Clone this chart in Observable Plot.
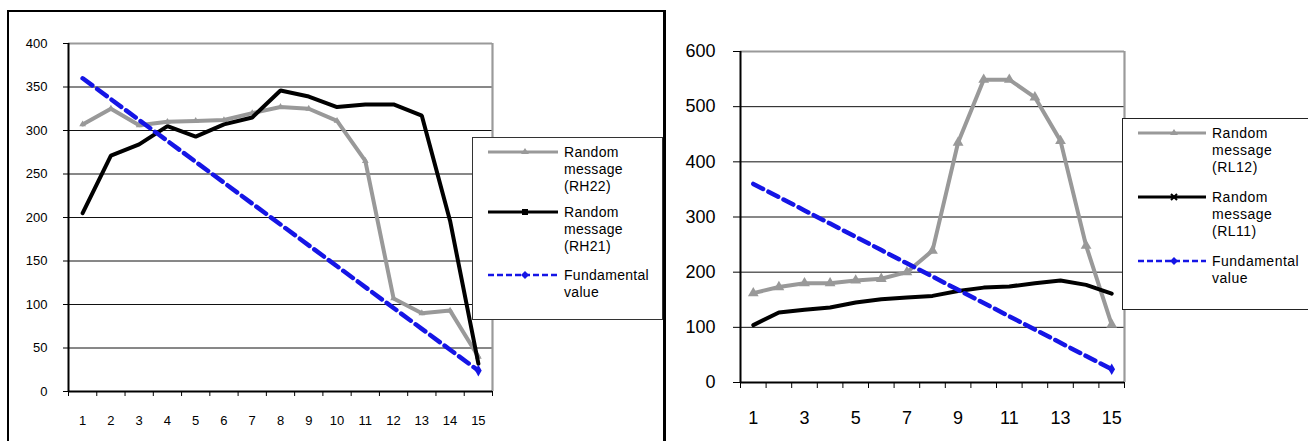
<!DOCTYPE html>
<html>
<head>
<meta charset="utf-8">
<script src="https://cdn.jsdelivr.net/npm/d3@7"></script>
<script src="https://cdn.jsdelivr.net/npm/@observablehq/plot@0.6"></script>
<style>
  html, body { margin: 0; padding: 0; background: #fff; }
  body { width: 1308px; height: 441px; overflow: hidden; position: relative; font-family: "Liberation Sans", Arial, sans-serif; }
  .panel { position: absolute; top: 0; }
  .frame { position: absolute; left: 7px; top: 10px; width: 659px; height: 460px; box-sizing: border-box;
           border-left: 2px solid #000; border-top: 2px solid #000; border-right: 3px solid #000; pointer-events: none; }
  .legend { position: absolute; background: #fff; box-sizing: border-box; }
  .entry { position: absolute; color: #000; }
</style>
</head>
<body>
<div id="left" class="panel" style="left:0px"></div>
<div id="right" class="panel" style="left:664px"></div>
<div class="frame"></div>
<div id="legL" class="legend" style="left:472px; top:137px; width:191px; height:183px; border:1px solid #333;"></div>
<div id="legR" class="legend" style="left:1122px; top:118px; width:200px; height:192px; border:1px solid #222;"></div>
<script>
// ---- data ----
const periods = [1,2,3,4,5,6,7,8,9,10,11,12,13,14,15];
const fundamental = [360,336,312,288,264,240,216,192,168,144,120,96,72,48,24];
// left panel
const rh22 = [307,325,306,310,311,312,320,327,325,311,265,107,90,93,40];
const rh21 = [205,271,284,305,293,307,315,346,339,327,330,330,317,196,32];
const leftYTicks = [0,50,100,150,200,250,300,350,400];
const leftXLabels = [1,2,3,4,5,6,7,8,9,10,11,12,13,14,15];
const leftNames = ["Random\nmessage\n(RH22)", "Random\nmessage\n(RH21)", "Fundamental\nvalue"];
// right panel
const rl12 = [162,173,180,180,185,188,200,239,435,549,549,517,438,248,105];
const rl11 = [104,127,132,136,145,151,154,157,166,172,174,180,185,177,161];
const rightYTicks = [0,100,200,300,400,500,600];
const rightXLabels = [1,3,5,7,9,11,13,15];
const rightNames = ["Random\nmessage\n(RL12)", "Random\nmessage\n(RL11)", "Fundamental\nvalue"];

const GRAY = "#999999", BLACK = "#000000", BLUE = "#1515e6";
const rows = (vals) => periods.map((p, i) => ({period: p, value: vals[i]}));
const boundaries = periods.map(p => p - 0.5).concat([periods[periods.length - 1] + 0.5]);

function panel({width, height, ml, mr, mt, mb, ymax, yTicks, xLabels, tickSizeY, padY, tickSizeX, padX, fontSize, gray, black, dash, triR}) {
  const grid = yTicks.filter(v => v > 0 && v < ymax);
  return Plot.plot({
    width, height,
    marginLeft: ml, marginRight: mr, marginTop: mt, marginBottom: mb,
    x: {domain: [0.5, 15.5], axis: null},
    y: {domain: [0, ymax], axis: null},
    style: {fontFamily: "'Liberation Sans', Arial, sans-serif", fontSize: fontSize + "px", color: "#000", background: "transparent"},
    marks: [
      Plot.ruleY(grid, {stroke: "#111", strokeWidth: 1}),
      Plot.ruleY([ymax], {stroke: "#9a9a9a", strokeWidth: 2.2}),
      Plot.ruleX([15.5], {stroke: "#9a9a9a", strokeWidth: 2.2}),
      Plot.axisY({ticks: yTicks, tickSize: tickSizeY, tickPadding: padY, stroke: "#000", strokeWidth: 1, fontSize: fontSize, label: null}),
      Plot.axisX({ticks: boundaries, tickFormat: () => "", tickSize: tickSizeX, stroke: "#000", strokeWidth: 1, label: null}),
      Plot.axisX({ticks: xLabels, tickSize: 0, tickPadding: padX, fontSize: fontSize, label: null}),
      Plot.ruleY([0], {stroke: "#000", strokeWidth: 2}),
      Plot.ruleX([0.5], {stroke: "#000", strokeWidth: 2}),
      Plot.line(rows(gray), {x: "period", y: "value", stroke: GRAY, strokeWidth: 4, strokeLinejoin: "miter"}),
      Plot.dot(rows(gray), {x: "period", y: "value", symbol: "triangle", r: triR, fill: GRAY, stroke: "none"}),
      Plot.line(rows(black), {x: "period", y: "value", stroke: BLACK, strokeWidth: 4, strokeLinejoin: "miter"}),
      Plot.line(rows(fundamental), {x: "period", y: "value", stroke: BLUE, strokeWidth: 4.5, strokeDasharray: dash}),
      Plot.dot([rows(fundamental)[14]], {x: "period", y: "value", symbol: "diamond", r: 3.5, fill: BLUE})
    ]
  });
}

document.getElementById("left").append(panel({
  width: 664, height: 441, ml: 68, mr: 172, mt: 43, mb: 50, ymax: 400,
  yTicks: leftYTicks, xLabels: leftXLabels, tickSizeY: 5, padY: 16, tickSizeX: 5, padX: 24,
  fontSize: 13, gray: rh22, black: rh21, dash: "12,6", triR: 2.5
}));
document.getElementById("right").append(panel({
  width: 644, height: 441, ml: 76, mr: 184, mt: 51, mb: 59, ymax: 600,
  yTicks: rightYTicks, xLabels: rightXLabels, tickSizeY: 7, padY: 18, tickSizeX: 6, padX: 29,
  fontSize: 18, gray: rl12, black: rl11, dash: "11,6", triR: 4
}));

// ---- legends ----
function legend(el, names, {swX, swW, txX, ys, fontSize, letter, blackMarker}) {
  const styles = [
    {stroke: GRAY, width: 3, dash: null, marker: "tri", color: GRAY},
    {stroke: BLACK, width: 3, dash: null, marker: blackMarker, color: BLACK},
    {stroke: BLUE, width: 2.5, dash: "6,3", marker: "dia", color: BLUE}
  ];
  names.forEach((name, i) => {
    const s = styles[i], y = ys[i];
    const ns = "http://www.w3.org/2000/svg";
    const svg = document.createElementNS(ns, "svg");
    svg.setAttribute("width", swW); svg.setAttribute("height", 12);
    svg.style.position = "absolute"; svg.style.left = swX + "px"; svg.style.top = (y - 6) + "px";
    const ln = document.createElementNS(ns, "line");
    ln.setAttribute("x1", 0); ln.setAttribute("x2", swW); ln.setAttribute("y1", 6); ln.setAttribute("y2", 6);
    ln.setAttribute("stroke", s.stroke); ln.setAttribute("stroke-width", s.width);
    if (s.dash) ln.setAttribute("stroke-dasharray", s.dash);
    svg.append(ln);
    const cx = swW / 2 + 2;
    let m;
    if (s.marker === "tri") { m = document.createElementNS(ns, "path"); m.setAttribute("d", `M${cx},2 L${cx+4},8 L${cx-4},8 Z`); m.setAttribute("fill", s.color); }
    else if (s.marker === "sq") { m = document.createElementNS(ns, "rect"); m.setAttribute("x", cx-3); m.setAttribute("y", 3); m.setAttribute("width", 6); m.setAttribute("height", 6); m.setAttribute("fill", s.color); }
    else if (s.marker === "x") { m = document.createElementNS(ns, "path"); m.setAttribute("d", `M${cx-3},3 L${cx+3},9 M${cx+3},3 L${cx-3},9`); m.setAttribute("stroke", s.color); m.setAttribute("stroke-width", 2); }
    else { m = document.createElementNS(ns, "path"); m.setAttribute("d", `M${cx},2 L${cx+4},6 L${cx},10 L${cx-4},6 Z`); m.setAttribute("fill", s.color); }
    svg.append(m);
    el.append(svg);
    name.split("\n").forEach((t, k) => {
      const d = document.createElement("div");
      d.className = "entry";
      d.style.left = txX + "px"; d.style.top = (y - 9 + k * 17) + "px";
      d.style.fontSize = fontSize + "px"; d.style.lineHeight = "18px"; d.style.letterSpacing = letter + "px";
      d.style.whiteSpace = "nowrap";
      d.textContent = t;
      el.append(d);
    });
  });
}
legend(document.getElementById("legL"), leftNames, {swX: 15, swW: 70, txX: 91, ys: [14, 74, 137], fontSize: 14, letter: 0.3, blackMarker: "sq"});
legend(document.getElementById("legR"), rightNames, {swX: 15, swW: 68, txX: 89, ys: [14, 78, 142], fontSize: 14, letter: 0.5, blackMarker: "x"});
</script>
</body>
</html>
